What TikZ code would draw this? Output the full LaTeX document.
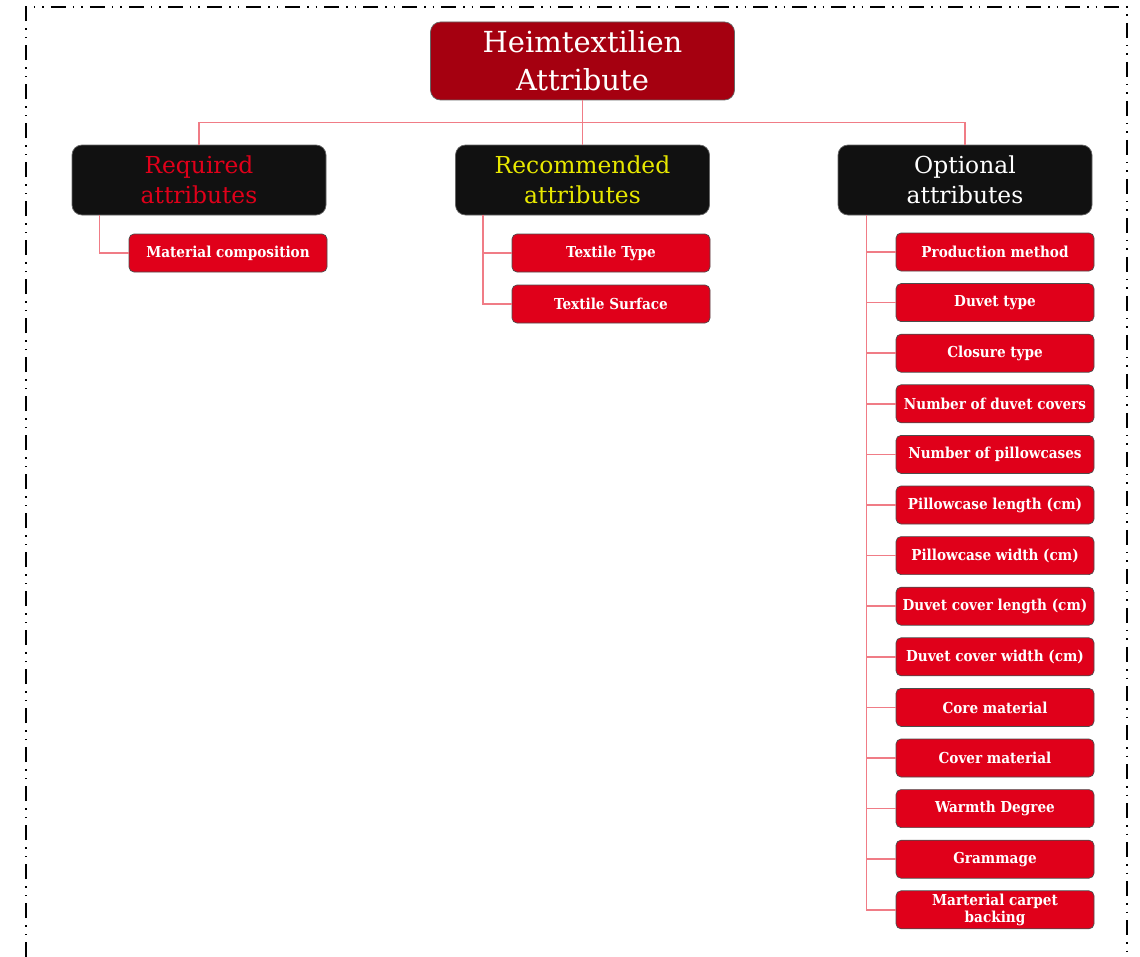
\documentclass[tikz,border=0pt]{standalone}
\usepackage{fontspec}
\setmainfont{DejaVu Serif Condensed}
\newfontfamily\headfont{DejaVu Serif}
\usepackage{xcolor}
\usetikzlibrary{positioning,calc}
\definecolor{heimred}{HTML}{A50010}
\definecolor{leafred}{HTML}{E0001A}
\definecolor{groupblack}{HTML}{111111}
\definecolor{linkred}{HTML}{F07C86}
\definecolor{recyellow}{HTML}{E8E800}

\begin{document}
\begin{tikzpicture}[
    rootbox/.style={draw=black!60, fill=heimred, rounded corners=0.2cm, minimum width=6.08cm,
        minimum height=1.56cm, align=center, text=white, font=\headfont\fontsize{16.5}{21.6}\selectfont},
    groupbox/.style={draw=black!60, fill=groupblack, rounded corners=0.2cm, minimum width=5.08cm,
        minimum height=1.4cm, align=center, font=\headfont\fontsize{13.3}{17}\selectfont},
    itembox/.style={draw=black!70, fill=leafred, rounded corners=0.1cm, minimum width=3.96cm,
        minimum height=0.76cm, inner sep=1pt, align=center, text=white,
        font=\bfseries\fontsize{8.6}{9.4}\selectfont},
    link/.style={draw=linkred, line width=0.9pt},
    frame/.style={line width=1.1pt, dash pattern=on 0.3cm off 0.14cm on 0.03cm off 0.14cm on 0.03cm off 0.14cm}
]
    \useasboundingbox (0,0) rectangle (22.8,-19.14);
    % dash-dot-dot frame, its bottom edge lies below the page
    \draw[frame] (0.52,-19.14) -- (0.52,-0.14) -- (22.54,-0.14) -- (22.54,-19.14);

    % Root and the three groups
    \node[rootbox] (heim) at (11.65,-1.22) {Heimtextilien\\Attribute};
    \node[groupbox, text=leafred] (req) at (3.98,-3.6) {Required\\attributes};
    \node[groupbox, text=recyellow] (rec) at (11.65,-3.6) {Recommended\\attributes};
    \node[groupbox, text=white] (opt) at (19.3,-3.6) {Optional\\attributes};

    \coordinate (bus) at ($(heim.south)!0.5!(rec.north)$);
    \draw[link] (heim.south) -- (rec.north);
    \draw[link] (req.north) |- (bus) -| (opt.north);

    % Required
    \node[itembox] (mat) at (4.56,-5.06) {Material composition};
    \draw[link] ($(req.south west)+(0.56,0)$) |- (mat.west);

    % Recommended
    \node[itembox] (ttype) at (12.22,-5.06) {Textile Type};
    \node[itembox] (tsurf) at (12.22,-6.08) {Textile Surface};
    \draw[link] ($(rec.south west)+(0.56,0)$) |- (ttype.west);
    \draw[link] ($(rec.south west)+(0.56,0)$) |- (tsurf.west);

    % Optional
    \foreach \lbl [count=\i] in {Production method, Duvet type, Closure type, Number of duvet covers,
        Number of pillowcases, Pillowcase length (cm), Pillowcase width (cm), Duvet cover length (cm),
        Duvet cover width (cm), Core material, Cover material, Warmth Degree, Grammage,
        {Marterial carpet\\backing}}
    {
        \node[itembox] (opt\i) at (19.9,{-5.04-1.012*(\i-1)}) {\lbl};
        \draw[link] ($(opt.south west)+(0.58,0)$) |- (opt\i.west);
    }
\end{tikzpicture}
\end{document}
